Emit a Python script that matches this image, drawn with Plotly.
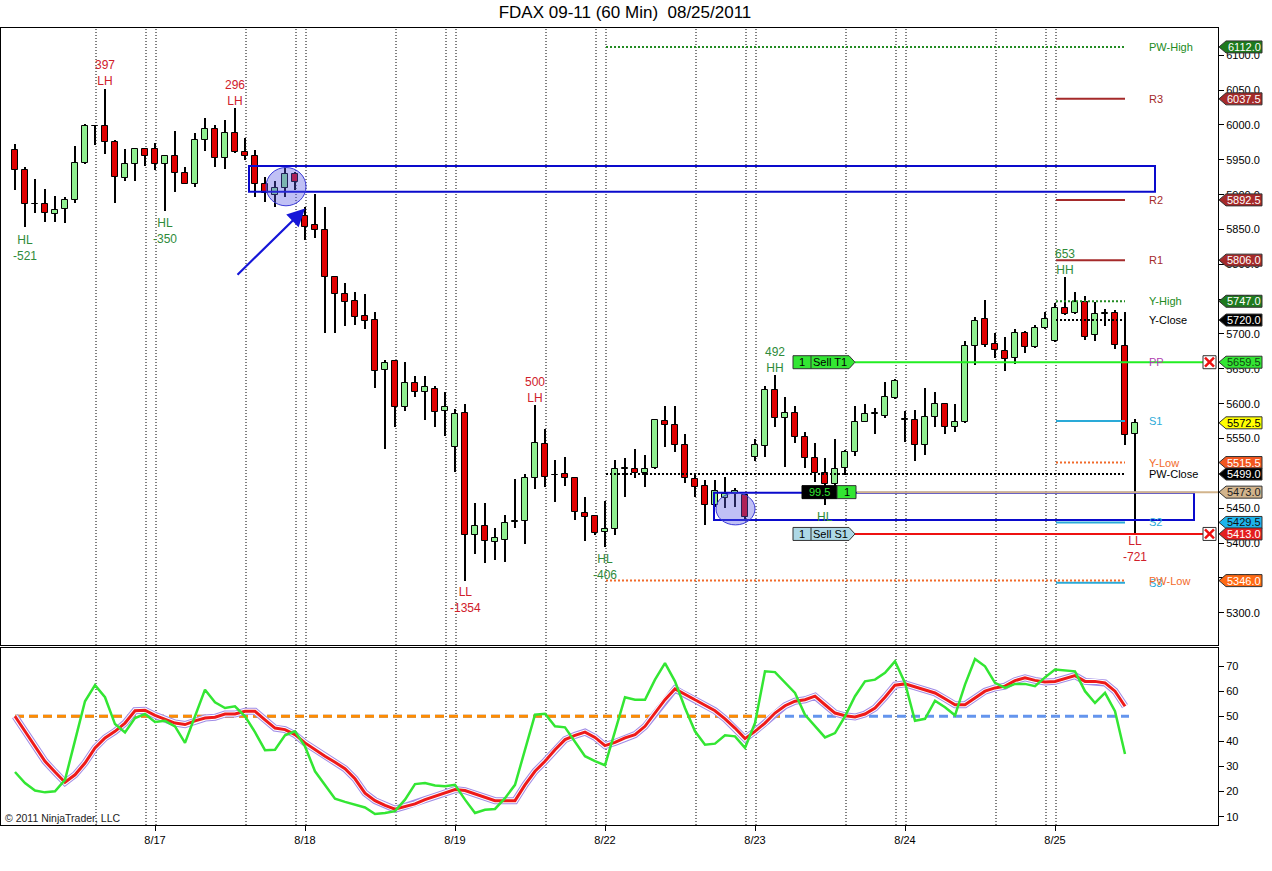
import plotly.graph_objects as go

# ---------------- data ----------------
title_text = "FDAX 09-11 (60 Min)\u00a0 08/25/2011"
date_labels = ['8/17', '8/18', '8/19', '8/22', '8/23', '8/24', '8/25']
date_tick_bar = [14, 29, 44, 59, 74, 89, 104]
session_lines = [8, 13, 14, 23, 28, 29, 38, 43, 44, 53, 58, 59, 68, 73, 74,
                 83, 88, 89, 98, 103, 104]

opens = [5964, 5936, 5886, 5887, 5872, 5879, 5893, 5946, 5999, 5998,
         5975, 5924, 5944, 5966, 5966, 5944, 5956, 5931, 5915, 5978,
         5994, 5952, 5988, 5961, 5956, 5915, 5900, 5909, 5929, 5869,
         5857, 5849, 5782, 5757, 5747, 5726, 5720, 5648, 5661, 5595,
         5630, 5617, 5621, 5589, 5538, 5586, 5412, 5424, 5402, 5405,
         5430, 5431, 5493, 5542, 5497, 5499, 5493, 5443, 5439, 5416,
         5420, 5506, 5506, 5500, 5507, 5575, 5569, 5541, 5492, 5482,
         5454, 5465, 5470, 5469, 5523, 5539, 5619, 5579, 5586, 5552,
         5522, 5500, 5485, 5507, 5530, 5574, 5585, 5583, 5608, 5577,
         5576, 5541, 5581, 5599, 5567, 5574, 5683, 5721, 5685, 5676,
         5665, 5701, 5681, 5708, 5690, 5737, 5730, 5746, 5698, 5729,
         5730, 5683, 5557]
highs = [5973, 5940, 5922, 5908, 5898, 5897, 5970, 6001, 6000, 6051,
         5978, 5966, 5967, 5966, 5974, 5957, 5992, 5940, 5989, 6010,
         6000, 6007, 6024, 5982, 5964, 5926, 5919, 5939, 5933, 5883,
         5901, 5883, 5783, 5773, 5760, 5757, 5732, 5663, 5662, 5660,
         5640, 5639, 5625, 5617, 5593, 5600, 5458, 5458, 5422, 5440,
         5492, 5499, 5598, 5563, 5519, 5523, 5494, 5466, 5440, 5460,
         5519, 5522, 5535, 5526, 5578, 5596, 5597, 5557, 5500, 5490,
         5490, 5495, 5479, 5470, 5549, 5625, 5641, 5610, 5596, 5560,
         5544, 5522, 5550, 5534, 5597, 5600, 5594, 5631, 5635, 5589,
         5591, 5622, 5617, 5601, 5600, 5690, 5725, 5749, 5701, 5696,
         5707, 5704, 5713, 5732, 5745, 5782, 5760, 5755, 5746, 5736,
         5734, 5731, 5578]
lows = [5906, 5853, 5874, 5861, 5861, 5860, 5888, 5944, 5971, 5959,
        5888, 5919, 5920, 5941, 5935, 5876, 5904, 5915, 5911, 5962,
        5939, 5937, 5960, 5950, 5896, 5890, 5883, 5897, 5906, 5835,
        5838, 5702, 5702, 5712, 5713, 5707, 5622, 5535, 5566, 5590,
        5609, 5576, 5566, 5554, 5502, 5346, 5384, 5371, 5375, 5373,
        5422, 5398, 5478, 5480, 5459, 5482, 5433, 5403, 5411, 5394,
        5411, 5466, 5493, 5481, 5506, 5538, 5530, 5486, 5466, 5426,
        5452, 5450, 5452, 5435, 5517, 5524, 5567, 5509, 5544, 5507,
        5488, 5455, 5481, 5498, 5525, 5573, 5556, 5579, 5607, 5545,
        5517, 5526, 5567, 5556, 5560, 5572, 5655, 5682, 5666, 5647,
        5657, 5673, 5680, 5707, 5689, 5727, 5729, 5692, 5690, 5712,
        5678, 5541, 5415]
closes = [5936, 5886, 5887, 5873, 5878, 5893, 5946, 5999, 5998, 5975,
          5925, 5944, 5966, 5955, 5944, 5956, 5931, 5916, 5978, 5994,
          5952, 5988, 5961, 5956, 5915, 5902, 5909, 5929, 5918, 5854,
          5849, 5782, 5757, 5746, 5725, 5719, 5647, 5659, 5595, 5630,
          5617, 5624, 5588, 5595, 5585, 5412, 5424, 5403, 5407, 5429,
          5431, 5493, 5543, 5495, 5498, 5493, 5445, 5438, 5415, 5420,
          5506, 5507, 5500, 5506, 5577, 5570, 5541, 5493, 5481, 5454,
          5474, 5470, 5474, 5437, 5541, 5619, 5579, 5586, 5552, 5522,
          5500, 5485, 5506, 5530, 5574, 5585, 5586, 5609, 5632, 5578,
          5541, 5581, 5599, 5566, 5574, 5683, 5719, 5684, 5677, 5664,
          5702, 5681, 5708, 5721, 5738, 5728, 5746, 5695, 5729, 5730,
          5684, 5555, 5572.5]

osc_fast = [27.8, 23.4, 20.4, 19.7, 20.1, 24.7, 40.3, 56, 62.4, 57.6,
            46.9, 43.6, 49.3, 50.9, 47.7, 48.2, 46, 39.4, 50, 60.6,
            55.6, 53.3, 54, 50, 43.7, 36.5, 36.7, 42.4, 44, 38,
            28.1, 22.7, 17.2, 15.9, 14.8, 13.7, 11.1, 11.5, 12.2,
            16.8, 23, 23.4, 22.4, 22.1, 22.7, 16.8, 11.5, 12.8, 13.1,
            17.4, 22.7, 36.7, 50.6, 51, 46, 45.6, 40, 34.1, 32.1,
            30.5, 44, 57.6, 56.6, 56.6, 64.6, 71.2, 63.9, 53.3, 44,
            38.7, 39.1, 42.4, 42, 37.4, 47.3, 67.9, 67.6, 63.5,
            59.3, 50.6, 46, 41.6, 43.3, 50, 58, 63.9, 64.6, 67.3,
            71.9, 63.3, 48.2, 49, 56.2, 53.6, 50.4, 62.6, 72.8, 69.9,
            63.3, 61.3, 62.9, 62.9, 62, 65.5, 68.6, 68.2, 67.9, 60,
            55.3, 59.3, 52, 35]
osc_slow = [50, 44, 38, 32.1, 27.8, 23.7, 26.7, 31.4, 37.4, 41.4,
            44, 47.3, 52.2, 52.4, 50.4, 48.9, 47.3, 46.7, 48.2, 49.3,
            49.6, 50.9, 50.9, 52, 52, 48.6, 45.3, 44.7, 42.7, 39.4,
            36.7, 34.1, 31.7, 29.1, 25.1, 19.4, 16.4, 14.5, 13,
            14.1, 15.1, 16.8, 18.1, 19.7, 20.8, 20.4, 19, 17.7, 16.4,
            16.4, 16.4, 22.7, 28.1, 32.1, 36.7, 40.7, 42.4, 43.7, 41.6,
            38.3, 39.6, 41.4, 42.7, 46, 51.3, 56.6, 60.9, 58.6, 56.6,
            54.4, 52.2, 49, 45.3, 41.1, 44, 47.3, 51.3, 54.2,
            56, 56.6, 58, 54.6, 51.3, 50.2, 49.7, 50.9, 53.3, 57.6,
            62.4, 62.9, 61.6, 60.6, 59.3, 57, 54.6, 54.6, 57.3, 60,
            61.3, 62, 64.2, 65.3, 64.3, 63.7, 63.9, 64.9, 66.2, 63.9,
            63.9, 63.3, 60, 54]
osc_mid = 50
price_ticks = list(range(5300, 6101, 50))
osc_ticks = [10, 20, 30, 40, 50, 60, 70]

# pivot / reference levels
level_names = ['PW-High', 'R3', 'R2', 'R1', 'Y-High', 'Y-Close', 'PP', 'S1',
               'Y-Low', 'PW-Close', 'S2', 'S3', 'PW-Low']
level_values = [6112.0, 6037.5, 5892.5, 5806.0, 5747.0, 5720.0, 5659.5, 5575.0,
                5515.5, 5499.0, 5429.5, 5343.0, 5346.0]
level_colors = ['#228B22', '#A52A2A', '#A52A2A', '#A52A2A', '#228B22', '#000000',
                '#B040B0', '#2AAAD8', '#F26A2A', '#000000', '#2AAAD8', '#2AAAD8',
                '#F26A2A']
level_dotted = [True, False, False, False, True, True, False, False,
                True, True, False, False, True]
level_weekly = [True, False, False, False, False, False, False, False,
                False, True, False, False, True]

# right-axis price markers
marker_values = [6112.0, 6037.5, 5892.5, 5806.0, 5747.0, 5720.0, 5659.5, 5572.5,
                 5515.5, 5499.0, 5473.0, 5429.5, 5413.0, 5346.0]
marker_fill = ['#1E7A1E', '#A52A2A', '#A52A2A', '#A52A2A', '#1E7A1E', '#000000',
               '#33E633', '#FFFF00', '#F2561E', '#000000', '#D2B48C', '#1EB4EC',
               '#E41E1E', '#FF6A14']
marker_font = ['white', 'white', 'white', 'white', 'white', 'white', '#114411',
               'black', 'white', 'white', '#222222', '#111111', 'white', 'white']

# swing annotations
swing_bar = [1, 9, 15, 22, 45, 52, 59, 76, 81, 105, 112]
swing_text = ['HL<br>-521', '397<br>LH', 'HL<br>-350', '296<br>LH', 'LL<br>-1354',
              '500<br>LH', 'HL<br>-406', '492<br>HH', 'HL', '653<br>HH', 'LL<br>-721']
swing_price = [5824, 6075, 5848, 6046, 5318, 5620, 5366, 5663, 5437, 5803, 5392]
swing_up = [True, False, True, False, False, False, True, True, True, True, False]

# trades
entry_price = 5473.0
pnl_text = '99.5'
trade_names = ['Sell T1', 'Sell S1']
trade_prices = [5659.5, 5413.0]
trade_fill = ['#33E633', '#ADD8E6']

# drawn objects (bars / prices)
zones = [(23.4, 114.0, 5904, 5941), (69.9, 117.9, 5433, 5472)]
circles = [(25.1, 29.1, 5884, 5939), (70.1, 74.0, 5426, 5472)]
arrow_from = (22.1, 5783)
arrow_to = (29.0, 5880)

# ---------------- geometry ----------------
W, H = 1272, 871
ML, MR, MT, MB = 1, 54, 28, 46
plot_w = W - ML - MR
plot_h = H - MT - MB
price_bottom_px, osc_top_px = 645, 648
price_dom = [(H - MB - price_bottom_px) / plot_h, 1.0]
osc_dom = [0.0, (H - MB - osc_top_px) / plot_h]
x_range = [-1.4, 120.3]
price_range = [5253.6, 6139.2]
osc_range = [6.7, 77.2]
ppx = (price_range[1] - price_range[0]) / (price_bottom_px - MT)


def xpaper(px):
    return (px - ML) / plot_w


FONT = 'Liberation Sans, Arial, sans-serif'

fig = go.Figure()

# ---------------- candles ----------------
idx = list(range(len(opens)))
fig.add_trace(go.Bar(x=idx, base=lows, y=[h - l for h, l in zip(highs, lows)],
                     width=0.12, marker=dict(color='black', line=dict(width=0)),
                     hoverinfo='skip'))
body_base = [min(o, c) for o, c in zip(opens, closes)]
body_h = [max(abs(c - o), 0.8) for o, c in zip(opens, closes)]
body_col = ['#90EE90' if c > o else ('#E00000' if c < o else 'black')
            for o, c in zip(opens, closes)]
fig.add_trace(go.Bar(x=idx, base=body_base, y=body_h, width=0.64,
                     marker=dict(color=body_col, line=dict(color='black', width=1)),
                     hoverinfo='skip'))

# ---------------- oscillator ----------------
oidx = list(range(len(osc_slow)))
fig.add_trace(go.Scatter(x=[oidx[0], oidx[-1] + 0.4], y=[osc_mid, osc_mid], mode='lines',
                         line=dict(color='#6495ED', width=3, dash='9px,5px'),
                         xaxis='x2', yaxis='y2', hoverinfo='skip'))
fig.add_trace(go.Scatter(x=[oidx[0], 77], y=[osc_mid, osc_mid], mode='lines',
                         line=dict(color='#FF8C00', width=3, dash='9px,5px'),
                         xaxis='x2', yaxis='y2', hoverinfo='skip'))
fig.add_trace(go.Scatter(x=oidx, y=osc_slow, mode='lines',
                         line=dict(color='#A08CE6', width=7),
                         xaxis='x2', yaxis='y2', hoverinfo='skip'))
fig.add_trace(go.Scatter(x=oidx, y=osc_slow, mode='lines',
                         line=dict(color='white', width=5),
                         xaxis='x2', yaxis='y2', hoverinfo='skip'))
fig.add_trace(go.Scatter(x=oidx, y=osc_slow, mode='lines',
                         line=dict(color='#EE1A1A', width=3),
                         xaxis='x2', yaxis='y2', hoverinfo='skip'))
fig.add_trace(go.Scatter(x=oidx, y=osc_fast, mode='lines',
                         line=dict(color='#33E633', width=2.5),
                         xaxis='x2', yaxis='y2', hoverinfo='skip'))

shapes = []
annots = []

# session lines
for s in session_lines:
    shapes.append(dict(type='line', xref='x', yref='paper', x0=s + 0.1, x1=s + 0.1,
                       y0=0, y1=1, layer='below',
                       line=dict(color='black', width=1, dash='1px,2px')))

# level lines + labels
for name, v, col, dotted, weekly in zip(level_names, level_values, level_colors,
                                         level_dotted, level_weekly):
    if name != 'PP':
        x0 = 59.1 if weekly else 104.1
        shapes.append(dict(type='line', xref='x', yref='y', x0=x0, x1=111, y0=v, y1=v,
                           layer='above',
                           line=dict(color=col, width=2,
                                     dash='2px,2px' if dotted else 'solid')))
    annots.append(dict(x=113.2, y=v, xref='x', yref='y', text=name, showarrow=False,
                       xanchor='left', yanchor='middle',
                       font=dict(family=FONT, size=11, color=col)))

# zones and circles
for x0, x1, y0, y1 in zones:
    shapes.append(dict(type='rect', xref='x', yref='y', x0=x0, x1=x1, y0=y0, y1=y1,
                       layer='above', line=dict(color='#0A0ACC', width=2),
                       fillcolor='rgba(0,0,0,0)'))
for x0, x1, y0, y1 in circles:
    shapes.append(dict(type='circle', xref='x', yref='y', x0=x0, x1=x1, y0=y0, y1=y1,
                       layer='above', line=dict(color='#3A3AD8', width=1),
                       fillcolor='rgba(90,90,230,0.38)'))

annots.append(dict(x=arrow_to[0], y=arrow_to[1], ax=arrow_from[0], ay=arrow_from[1],
                   xref='x', yref='y', axref='x', ayref='y', text='', showarrow=True,
                   arrowhead=2, arrowsize=1.6, arrowwidth=2.2, arrowcolor='#1616D8'))

# trade lines
shapes.append(dict(type='line', xref='x', yref='y', x0=84.2, x1=x_range[1],
                   y0=entry_price, y1=entry_price, layer='above',
                   line=dict(color='#D2B48C', width=2)))
for name, v, fill, lc in zip(trade_names, trade_prices, trade_fill, ['#22EE22', '#EE1111']):
    shapes.append(dict(type='line', xref='x', yref='y', x0=84.0, x1=118.8, y0=v, y1=v,
                       layer='above', line=dict(color=lc, width=2)))
    hh = 6.5 * ppx
    shapes.append(dict(type='path', xref='x', yref='y', layer='above',
                       path=f'M 77.8,{v + hh} L 83.4,{v + hh} L 84.0,{v} L 83.4,{v - hh} '
                            f'L 77.8,{v - hh} Z',
                       fillcolor=fill, line=dict(color='#333333', width=1)))
    shapes.append(dict(type='line', xref='x', yref='y', x0=79.6, x1=79.6,
                       y0=v - hh, y1=v + hh, layer='above',
                       line=dict(color='#333333', width=1)))
    annots.append(dict(x=78.7, y=v, xref='x', yref='y', text='1', showarrow=False,
                       font=dict(family=FONT, size=11, color='black')))
    annots.append(dict(x=81.5, y=v, xref='x', yref='y', text=name, showarrow=False,
                       font=dict(family=FONT, size=11, color='black')))
    # exit X box
    shapes.append(dict(type='rect', xref='x', yref='y', x0=118.8, x1=120.1,
                       y0=v - hh, y1=v + hh, layer='above', fillcolor='white',
                       line=dict(color='#333333', width=1)))
    xh = 4.5 * ppx
    for ya, yb in ((v - xh, v + xh), (v + xh, v - xh)):
        shapes.append(dict(type='line', xref='x', yref='y', x0=119.0, x1=119.9,
                           y0=ya, y1=yb, layer='above',
                           line=dict(color='#EE1111', width=2.5)))

# pnl box
hh = 6.5 * ppx
shapes.append(dict(type='rect', xref='x', yref='y', x0=78.7, x1=82.2,
                   y0=entry_price - hh, y1=entry_price + hh, layer='above',
                   fillcolor='black', line=dict(color='black', width=1)))
shapes.append(dict(type='rect', xref='x', yref='y', x0=82.2, x1=84.1,
                   y0=entry_price - hh, y1=entry_price + hh, layer='above',
                   fillcolor='#33E633', line=dict(color='#333333', width=1)))
annots.append(dict(x=80.45, y=entry_price, xref='x', yref='y', text=pnl_text,
                   showarrow=False, font=dict(family=FONT, size=11, color='#33E633')))
annots.append(dict(x=83.15, y=entry_price, xref='x', yref='y', text='1',
                   showarrow=False, font=dict(family=FONT, size=11, color='black')))

# swing labels
for b, t, p, upf in zip(swing_bar, swing_text, swing_price, swing_up):
    annots.append(dict(x=b, y=p, xref='x', yref='y', text=t, showarrow=False,
                       xanchor='center', yanchor='middle',
                       font=dict(family=FONT, size=12,
                                 color='#2E8B3A' if upf else '#D0202A')))

# right axis markers
x_tip, x_sh, x_end = xpaper(1219), xpaper(1226), xpaper(1262)
for v, fill, fc in zip(marker_values, marker_fill, marker_font):
    hm = 6 * ppx
    shapes.append(dict(type='path', xref='paper', yref='y', layer='above',
                       path=f'M {x_tip},{v} L {x_sh},{v + hm} L {x_end},{v + hm} '
                            f'L {x_end},{v - hm} L {x_sh},{v - hm} Z',
                       fillcolor=fill, line=dict(color='#333333', width=1)))
    annots.append(dict(x=xpaper(1244), y=v, xref='paper', yref='y', text=f'{v:.1f}',
                       showarrow=False, xanchor='center', yanchor='middle',
                       font=dict(family=FONT, size=11, color=fc)))

# copyright
annots.append(dict(x=xpaper(3), y=9.6, xref='paper', yref='y2',
                   text='\u00a9 2011 NinjaTrader, LLC', showarrow=False,
                   xanchor='left', yanchor='middle',
                   font=dict(family=FONT, size=10.5, color='#222222')))

axis_common = dict(showgrid=False, zeroline=False, showline=True, linecolor='black',
                   linewidth=1, mirror=True)

fig.update_layout(
    width=W, height=H,
    margin=dict(l=ML, r=MR, t=MT, b=MB, pad=0),
    paper_bgcolor='white', plot_bgcolor='white',
    showlegend=False, barmode='overlay', bargap=0,
    title=dict(text=title_text, x=625 / W, y=1 - 12 / H, xanchor='center',
               yanchor='middle', font=dict(family=FONT, size=17, color='black')),
    xaxis=dict(domain=[0, 1], anchor='y', range=x_range, showticklabels=False,
               ticks='', **axis_common),
    yaxis=dict(domain=price_dom, anchor='x', range=price_range, side='right',
               tickvals=price_ticks, ticktext=[f'{t:.1f}' for t in price_ticks],
               ticks='outside', ticklen=5, tickcolor='black',
               tickfont=dict(family=FONT, size=11, color='black'), **axis_common),
    xaxis2=dict(domain=[0, 1], anchor='y2', range=x_range, matches='x',
                tickvals=date_tick_bar, ticktext=date_labels, ticks='outside',
                ticklen=5, tickcolor='black',
                tickfont=dict(family=FONT, size=11, color='black'), **axis_common),
    yaxis2=dict(domain=osc_dom, anchor='x2', range=osc_range, side='right',
                tickvals=osc_ticks, ticks='outside', ticklen=5, tickcolor='black',
                tickfont=dict(family=FONT, size=11, color='black'), **axis_common),
    shapes=shapes, annotations=annots,
)

fig.write_html('out.html', config={'displayModeBar': False},
               post_script="document.body.style.margin='0';")
